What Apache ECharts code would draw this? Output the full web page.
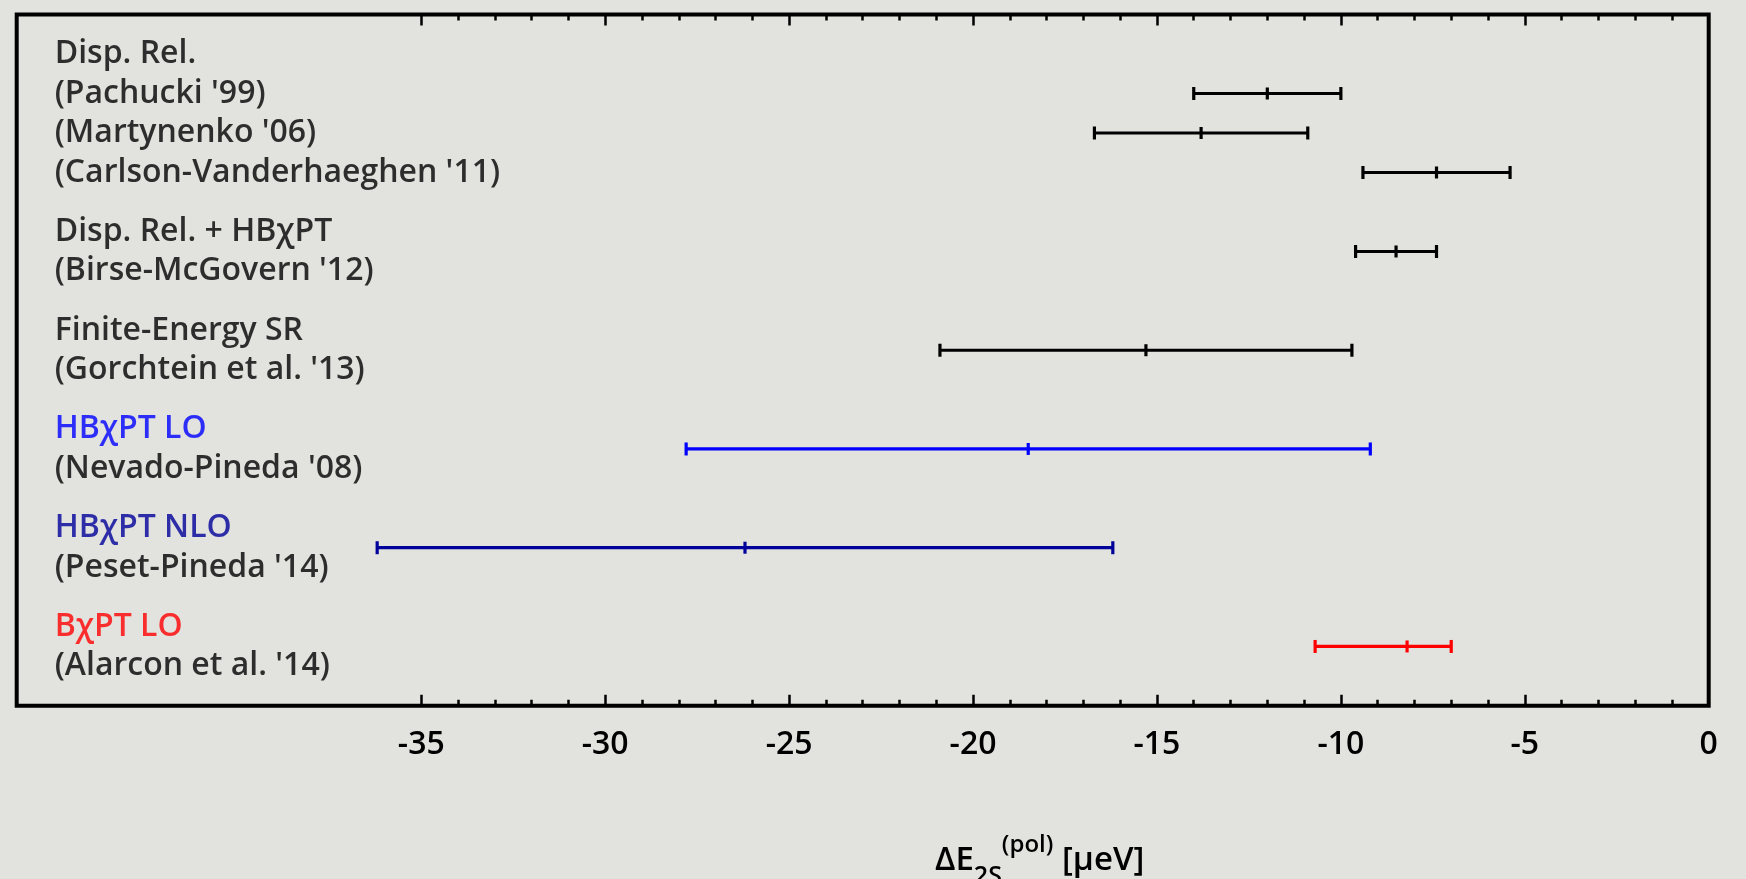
<!DOCTYPE html>
<html>
<head>
<meta charset="utf-8">
<title>Proton polarizability contribution to the 2S Lamb shift in muonic hydrogen</title>
<script src="https://cdn.jsdelivr.net/npm/echarts@6/dist/echarts.min.js"></script>
<style>
  html, body { margin: 0; padding: 0; background: #e2e2de; }
  #chart { width: 1746px; height: 879px; }
</style>
</head>
<body>
<div id="chart"></div>
<script>
// Text column on the left: one entry per printed line, with its row (1 row = one text line)
const textLines = [
  "Disp. Rel.",
  "(Pachucki '99)",
  "(Martynenko '06)",
  "(Carlson-Vanderhaeghen '11)",
  "Disp. Rel. + HBχPT",
  "(Birse-McGovern '12)",
  "Finite-Energy SR",
  "(Gorchtein et al. '13)",
  "HBχPT LO",
  "(Nevado-Pineda '08)",
  "HBχPT NLO",
  "(Peset-Pineda '14)",
  "BχPT LO",
  "(Alarcon et al. '14)"
];
const textRows = [1, 2, 3, 4, 5.5, 6.5, 8, 9, 10.5, 11.5, 13, 14, 15.5, 16.5];
const textColors = ["#000000", "#000000", "#000000", "#000000", "#000000", "#000000",
                    "#000000", "#000000", "#0000ff", "#000000", "#00009a", "#000000",
                    "#ff0000", "#000000"];

// Results: central value and asymmetric uncertainties in µeV
const works     = ["Pachucki '99", "Martynenko '06", "Carlson-Vanderhaeghen '11", "Birse-McGovern '12",
                   "Gorchtein et al. '13", "Nevado-Pineda '08", "Peset-Pineda '14", "Alarcon et al. '14"];
const central   = [-12.0, -13.8, -7.4, -8.5, -15.3, -18.5, -26.2, -8.2];
const errPlus   = [2.0, 2.9, 2.0, 1.1, 5.6, 9.3, 10.0, 1.2];
const errMinus  = [2.0, 2.9, 2.0, 1.1, 5.6, 9.3, 10.0, 2.5];
const barRows   = [2, 3, 4, 6, 8.5, 11, 13.5, 16];
const barColors = ["#000000", "#000000", "#000000", "#000000", "#000000", "#0000ff", "#00009a", "#ff0000"];

// Axis range and tick labels
const xMin = -46, xMax = 0;
const majorTicks = [-35, -30, -25, -20, -15, -10, -5, 0];
const minorTicks = [];
for (let v = majorTicks[0]; v <= xMax; v += 1) minorTicks.push(v);
const rowMax = 17.5;

const FONT = "'Open Sans', 'Liberation Sans', sans-serif";
const WEIGHT = 600;
const SIZE = 32;

const chart = echarts.init(document.getElementById('chart'), null, { renderer: 'canvas' });

function tickAxis(position, ticks, len, withLabels) {
  return {
    type: 'value', gridIndex: 0, position: position, offset: 0,
    min: xMin, max: xMax,
    axisLine: { show: false, onZero: false },
    splitLine: { show: false },
    axisTick: {
      show: true, inside: true, length: len, customValues: ticks,
      lineStyle: { color: '#000', width: 2.5 }
    },
    axisLabel: withLabels ? {
      show: true, customValues: ticks, margin: 23,
      color: '#000', fontSize: SIZE, fontFamily: FONT, fontWeight: WEIGHT
    } : { show: false }
  };
}

const option = {
  backgroundColor: '#e2e2de',
  animation: false,
  grid: {
    left: 16.7, right: 37.3, top: 14.5, bottom: 173.3,
    show: true, borderColor: '#000', borderWidth: 4, backgroundColor: 'transparent'
  },
  xAxis: [
    tickAxis('bottom', majorTicks, 11, true),
    tickAxis('bottom', minorTicks, 6, false),
    tickAxis('top', majorTicks, 11, false),
    tickAxis('top', minorTicks, 6, false)
  ],
  yAxis: { type: 'value', min: 0, max: rowMax, inverse: true, show: false },
  series: [
    {
      // left-hand text column
      type: 'scatter',
      xAxisIndex: 0,
      symbolSize: 0,
      silent: true,
      data: textLines.map((t, i) => ({
        value: [xMin, textRows[i]],
        name: t,
        label: { color: textColors[i] }
      })),
      label: {
        show: true, position: 'right', distance: 38,
        formatter: p => p.name,
        fontSize: SIZE, fontFamily: FONT, fontWeight: WEIGHT, color: '#000'
      }
    },
    {
      // horizontal error bars with end caps and a central tick
      type: 'custom',
      xAxisIndex: 0,
      data: works.map((w, i) => [central[i], central[i] - errMinus[i], central[i] + errPlus[i], barRows[i], i]),
      renderItem: function (params, api) {
        const c = api.value(0), lo = api.value(1), hi = api.value(2), row = api.value(3);
        const color = barColors[api.value(4)];
        const pLo = api.coord([lo, row]);
        const pHi = api.coord([hi, row]);
        const pC = api.coord([c, row]);
        const cap = 6.5, mid = 6;
        const style = { stroke: color, lineWidth: 3.2, lineCap: 'butt' };
        return {
          type: 'group',
          children: [
            { type: 'line', shape: { x1: pLo[0], y1: pLo[1], x2: pHi[0], y2: pHi[1] }, style: style },
            { type: 'line', shape: { x1: pLo[0], y1: pLo[1] - cap, x2: pLo[0], y2: pLo[1] + cap }, style: style },
            { type: 'line', shape: { x1: pHi[0], y1: pHi[1] - cap, x2: pHi[0], y2: pHi[1] + cap }, style: style },
            { type: 'line', shape: { x1: pC[0], y1: pC[1] - mid, x2: pC[0], y2: pC[1] + mid }, style: style }
          ]
        };
      }
    }
  ],
  graphic: [
    {
      type: 'text',
      left: 935, top: 833,
      silent: true,
      style: {
        text: '{m|ΔE}{sub|2S}{sup|(pol)}{m| [μeV]}',
        fontFamily: FONT,
        fill: '#000',
        rich: {
          m:   { fontSize: 33, fontFamily: FONT, fontWeight: WEIGHT, lineHeight: 56, verticalAlign: 'middle', fill: '#000' },
          sub: { fontSize: 25, fontFamily: FONT, fontWeight: WEIGHT, lineHeight: 30, verticalAlign: 'bottom', fill: '#000' },
          sup: { fontSize: 24, fontFamily: FONT, fontWeight: WEIGHT, lineHeight: 24, verticalAlign: 'top', fill: '#000' }
        }
      }
    }
  ]
};

chart.setOption(option);
</script>
</body>
</html>
